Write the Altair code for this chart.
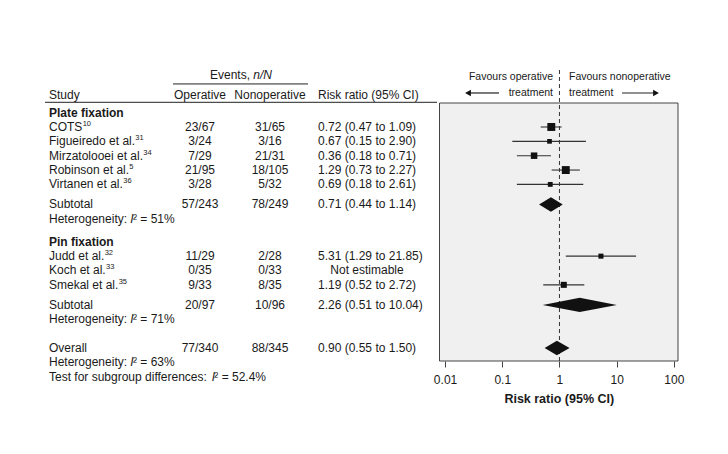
import altair as alt
import pandas as pd

# ---------------- data ----------------
study_names = ["COTS", "Figueiredo et al.", "Mirzatolooei et al.", "Robinson et al.",
               "Virtanen et al.", "Judd et al.", "Koch et al.", "Smekal et al."]
study_refs = ["10", "31", "34", "5", "36", "32", "33", "35"]
operative = ["23/67", "3/24", "7/29", "21/95", "3/28", "11/29", "0/35", "9/33"]
nonoperative = ["31/65", "3/16", "21/31", "18/105", "5/32", "2/28", "0/33", "8/35"]
rr = [0.72, 0.67, 0.36, 1.29, 0.69, 5.31, None, 1.19]
rr_lo = [0.47, 0.15, 0.18, 0.73, 0.18, 1.29, None, 0.52]
rr_hi = [1.09, 2.90, 0.71, 2.27, 2.61, 21.85, None, 2.72]
weight = [24.6, 8.6, 16.5, 24.4, 9.2, 10.0, 0.0, 14.3]

summary_label = ["Subtotal", "Subtotal", "Overall"]
summary_op = ["57/243", "20/97", "77/340"]
summary_nonop = ["78/249", "10/96", "88/345"]
summary_rr = [0.71, 2.26, 0.90]
summary_lo = [0.44, 0.51, 0.55]
summary_hi = [1.14, 10.04, 1.50]
heterogeneity = ["51%", "71%", "63%"]
subgroup_test = "52.4%"

axis_ticks = [0.01, 0.1, 1, 10, 100]
x_domain = [0.008, 118]

# ---------------- layout ----------------
study_rows = [0, 1, 2, 3, 4, 9, 10, 11]
group_rows = {"Plate fixation": -1, "Pin fixation": 8}
summary_rows = [5.4, 12.4, 15.4]
row_top, row_bot = -1.672, 16.307

FONT = "Liberation Sans, Arial, Helvetica, sans-serif"
FS = 12
FS_FAV = 10.5
TXT = "#1a1a1a"

# Arial / Liberation Sans advance widths (per 1000 em) for text layout
W = {"C": 722, "O": 778, "T": 611, "S": 667, "F": 611, "M": 833, "R": 722, "V": 667, "J": 500,
     "K": 667, "E": 667, "H": 722, "N": 722, "I": 278,
     "i": 222, "g": 556, "u": 556, "e": 556, "r": 333, "d": 556, "o": 556, " ": 278,
     "t": 278, "a": 556, "l": 222, ".": 278, "z": 500, "b": 556, "n": 556, "s": 500, "c": 500,
     "h": 556, "k": 500, "m": 833, "y": 500, ":": 278, "f": 278, "p": 556, "v": 500,
     ",": 278, "/": 278}


def tw(s, fs=FS):
    return sum(W.get(ch, 556) for ch in s) * fs / 1000.0


yscale = alt.Scale(domain=[row_bot, row_top], nice=False, zero=False)
xscale = alt.Scale(type="log", domain=x_domain, range=[431.5, 670], nice=False)
xaxis = alt.Axis(values=axis_ticks, format="~g", grid=False, domain=False, tickSize=6,
                 tickColor="#444", labelFontSize=12, labelColor=TXT, labelFont=FONT,
                 labelPadding=7, title="Risk ratio (95% CI)", titleFont=FONT,
                 titleFontSize=12.5, titleFontWeight="bold", titleColor=TXT, titlePadding=7)


def X(field):
    return alt.X(field, type="quantitative", scale=xscale, axis=xaxis)


def Y(field):
    return alt.Y(field, type="quantitative", scale=yscale, axis=None)


def ci_text(e, l, h):
    if e is None:
        return ""
    return f"{e:.2f} ({l:.2f} to {h:.2f})"


LEFT = 41
studies_df = pd.DataFrame({
    "row": study_rows, "study": study_names, "ref": study_refs,
    "refx": [LEFT + tw(n) + 0.3 for n in study_names],
    "op": operative, "nonop": nonoperative,
    "est": rr, "lo": rr_lo, "hi": rr_hi, "weight": weight,
    "ci": [ci_text(e, l, h) for e, l, h in zip(rr, rr_lo, rr_hi)],
    "ne": ["Not estimable" if e is None else "" for e in rr],
})
est_df = studies_df.dropna(subset=["est"])

groups_df = pd.DataFrame({"row": list(group_rows.values()), "label": list(group_rows.keys())})

summ_df = pd.DataFrame({
    "row": summary_rows, "label": summary_label, "op": summary_op, "nonop": summary_nonop,
    "ci": [ci_text(e, l, h) for e, l, h in zip(summary_rr, summary_lo, summary_hi)],
})
het_pre = "Heterogeneity: "
test_pre = "Test for subgroup differences: "
het_df = pd.DataFrame({
    "row": [r + 1 for r in summary_rows] + [summary_rows[-1] + 2],
    "pre": [het_pre] * 3 + [test_pre],
    "ix": [LEFT + tw(het_pre)] * 3 + [LEFT + tw(test_pre)],
    "post": [f"² = {h}" for h in heterogeneity] + [f"² = {subgroup_test}"],
})
het_df["px"] = het_df["ix"] + 2.6

# diamond polygons
dia = []
h = 0.5
for i, (r, e, l, hh) in enumerate(zip(summary_rows, summary_rr, summary_lo, summary_hi)):
    dia += [{"id": i, "x": l, "top": r, "bot": r},
            {"id": i, "x": e, "top": r - h, "bot": r + h},
            {"id": i, "x": hh, "top": r, "bot": r}]
dia_df = pd.DataFrame(dia)

box_df = pd.DataFrame({"x": [x_domain[0]], "x2": [x_domain[1]], "y": [row_top], "y2": [row_bot]})


def text(df, field, x, align="left", fs=FS, **kw):
    return alt.Chart(df).mark_text(align=align, baseline="middle", font=FONT, fontSize=fs,
                                   color=TXT, **kw).encode(
        x=alt.value(x), y=Y("row"), text=alt.Text(field, type="nominal"))


# ---------------- forest panel ----------------
box = alt.Chart(box_df).mark_rect(fill="#f0f0f0", stroke="#444", strokeWidth=1).encode(
    x=X("x"), x2="x2", y=Y("y"), y2="y2")

ref = alt.Chart(pd.DataFrame({"x": [1], "y": [-3.97], "y2": [row_bot]})).mark_rule(
    color="#333", strokeDash=[4, 3], strokeWidth=1).encode(x=X("x"), y=Y("y"), y2="y2")

ci_rules = alt.Chart(est_df).mark_rule(color="#333", strokeWidth=1.1).encode(
    x=X("lo"), x2="hi", y=Y("row"))

squares = alt.Chart(est_df).mark_square(color="#111", opacity=1).encode(
    x=X("est"), y=Y("row"),
    size=alt.Size("weight:Q", scale=alt.Scale(domain=[0, 25], range=[0, 64]), legend=None))

diamonds = alt.Chart(dia_df).mark_area(color="#111", opacity=1).encode(
    x=X("x"), y=Y("top"), y2="bot", detail="id:N")

# ---------------- table ----------------
ev_line = alt.Chart(pd.DataFrame({"row": [-3.0]})).mark_rule(color="#222", strokeWidth=1).encode(
    x=alt.value(165), x2=alt.value(300), y=Y("row"))
hdr_line = alt.Chart(pd.DataFrame({"row": [-1.72]})).mark_rule(color="#222", strokeWidth=1).encode(
    x=alt.value(37), x2=alt.value(429), y=Y("row"))

hdr = pd.DataFrame({"row": [-2.23], "a": ["Study"], "b": ["Operative"], "c": ["Nonoperative"],
                    "d": ["Risk ratio (95% CI)"]})
ev_a, ev_b = "Events, ", "n/N"
ev_start = 233 - (tw(ev_a) + tw(ev_b)) / 2
hdr_e = pd.DataFrame({"row": [-3.62], "e": [ev_a], "f": [ev_b]})

fav = pd.DataFrame({"row": [-3.48, -2.37], "l": ["Favours operative", "treatment"],
                    "r": ["Favours nonoperative", "treatment"]})

arrow_row = pd.DataFrame({"row": [-2.37]})
arrow_l_line = alt.Chart(arrow_row).mark_rule(color="#222", strokeWidth=1.2).encode(
    x=alt.value(459), x2=alt.value(491), y=Y("row"))
arrow_r_line = alt.Chart(arrow_row).mark_rule(color="#222", strokeWidth=1.2).encode(
    x=alt.value(614), x2=alt.value(648), y=Y("row"))
arrow_l = alt.Chart(arrow_row).mark_point(shape="triangle-left", filled=True, color="#111",
                                          size=45, opacity=1).encode(x=alt.value(460), y=Y("row"))
arrow_r = alt.Chart(arrow_row).mark_point(shape="triangle-right", filled=True, color="#111",
                                          size=45, opacity=1).encode(x=alt.value(648), y=Y("row"))

sup = alt.Chart(studies_df).mark_text(align="left", baseline="middle", font=FONT, fontSize=7.5,
                                      color=TXT, dy=-3).encode(
    x=alt.X("refx:Q", scale=None), y=Y("row"), text="ref:N")

italic_I = alt.Chart(het_df).mark_text(align="left", baseline="middle", font=FONT, fontSize=FS,
                                       color=TXT, fontStyle="italic", text="I").encode(
    x=alt.X("ix:Q", scale=None), y=Y("row"))
het_post = alt.Chart(het_df).mark_text(align="left", baseline="middle", font=FONT, fontSize=FS,
                                       color=TXT).encode(
    x=alt.X("px:Q", scale=None), y=Y("row"), text="post:N")

layers = [
    box, ref, ci_rules, squares, diamonds,
    ev_line, hdr_line,
    text(hdr_e, "e", ev_start),
    text(hdr_e, "f", ev_start + tw(ev_a), fontStyle="italic"),
    text(hdr, "a", LEFT), text(hdr, "b", 192, align="center"), text(hdr, "c", 262, align="center"),
    text(hdr, "d", 310),
    text(fav, "l", 545, align="right", fs=FS_FAV), text(fav, "r", 561, fs=FS_FAV),
    arrow_l_line, arrow_r_line, arrow_l, arrow_r,
    text(groups_df, "label", LEFT, fontWeight="bold"),
    text(studies_df, "study", LEFT), sup,
    text(studies_df, "op", 192, align="center"),
    text(studies_df, "nonop", 262, align="center"),
    text(studies_df, "ci", 310),
    text(studies_df, "ne", 359, align="center"),
    text(summ_df, "label", LEFT), text(summ_df, "op", 192, align="center"),
    text(summ_df, "nonop", 262, align="center"), text(summ_df, "ci", 310),
    text(het_df, "pre", LEFT), italic_I, het_post,
]

chart = alt.layer(*layers).properties(
    width=670, height=258,
    autosize=alt.AutoSizeParams(type="none"),
    padding={"left": 0, "top": 95, "right": 42, "bottom": 90},
    background="white",
).configure_view(stroke=None)

chart.save("out.html", embed_options={"renderer": "svg", "actions": False})
